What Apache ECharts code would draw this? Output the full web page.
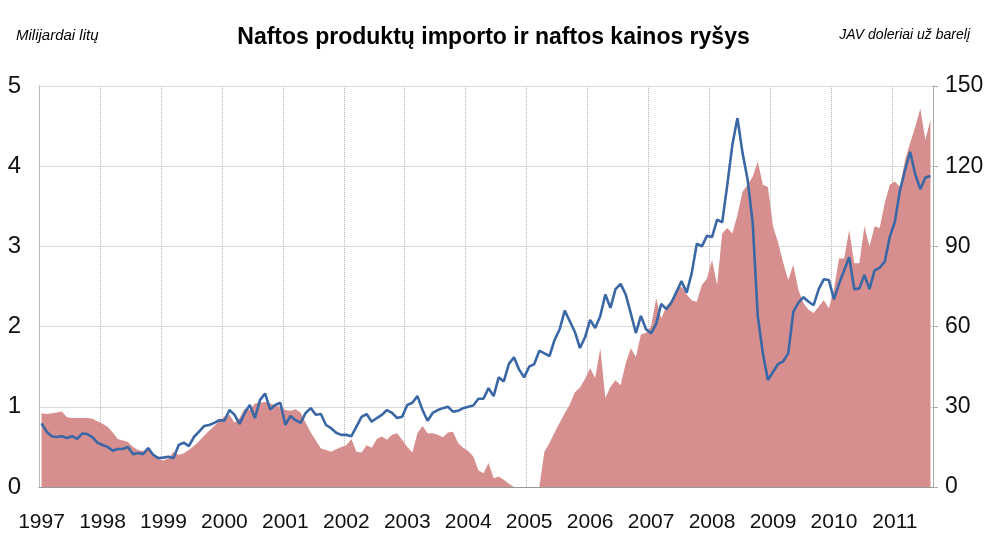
<!DOCTYPE html>
<html>
<head>
<meta charset="utf-8">
<title>Naftos produktų importo ir naftos kainos ryšys</title>
<script src="https://cdn.jsdelivr.net/npm/echarts@6/dist/echarts.min.js"></script>
<style>
  html, body { margin: 0; padding: 0; background: #fff; }
  #main { width: 987px; height: 539px; }
</style>
</head>
<body>
<div id="main"></div>
<script>
// metai (mėnesiniai duomenys 1997-01 .. 2011-08)
var years = [1997, 1998, 1999, 2000, 2001, 2002, 2003, 2004, 2005, 2006, 2007, 2008, 2009, 2010, 2011];
var lastYearMonths = 8;

// naftos produktų importas, mlrd. Lt (kairė ašis)
var importVals = [
  0.92, 0.91, 0.92, 0.93, 0.94, 0.87, 0.86, 0.86, 0.86, 0.86, 0.85, 0.82,
  0.79, 0.75, 0.68, 0.60, 0.58, 0.56, 0.50, 0.46, 0.45, 0.47, 0.41, 0.35,
  0.33, 0.36, 0.44, 0.40, 0.42, 0.46, 0.51, 0.57, 0.64, 0.70, 0.76, 0.83,
  0.88, 0.90, 0.80, 0.86, 0.98, 0.96, 1.04, 1.05, 1.06, 1.04, 1.02, 1.00,
  0.96, 0.95, 0.97, 0.93, 0.80, 0.68, 0.58, 0.48, 0.46, 0.44, 0.47, 0.50,
  0.52, 0.60, 0.44, 0.43, 0.52, 0.49, 0.60, 0.63, 0.59, 0.65, 0.67, 0.59,
  0.50, 0.43, 0.67, 0.76, 0.67, 0.67, 0.65, 0.62, 0.68, 0.69, 0.55, 0.49,
  0.45, 0.38, 0.21, 0.17, 0.30, 0.11, 0.13, 0.09, 0.04, 0, 0, 0,
  0, 0, 0, 0.44, 0.55, 0.68, 0.80, 0.92, 1.03, 1.18, 1.24, 1.35,
  1.48, 1.36, 1.73, 1.11, 1.25, 1.33, 1.27, 1.54, 1.73, 1.62, 1.90, 1.92,
  2.00, 2.35, 2.10, 2.25, 2.33, 2.46, 2.50, 2.40, 2.33, 2.31, 2.52, 2.60,
  2.83, 2.52, 3.16, 3.23, 3.16, 3.39, 3.68, 3.77, 3.87, 4.06, 3.77, 3.74,
  3.25, 3.05, 2.80, 2.58, 2.77, 2.46, 2.29, 2.21, 2.17, 2.25, 2.33, 2.23,
  2.46, 2.85, 2.85, 3.20, 2.79, 2.79, 3.25, 3.00, 3.25, 3.23, 3.54, 3.77,
  3.81, 3.74, 4.08, 4.29, 4.49, 4.72, 4.33, 4.58
];

// naftos kaina, JAV doleriai už barelį (dešinė ašis)
var oilPrice = [
  23.8, 20.7, 19.0, 18.7, 19.0, 18.3, 19.0, 18.0, 20.0, 19.8, 18.7, 16.6,
  15.7, 15.0, 13.6, 14.2, 14.2, 15.0, 12.3, 12.7, 12.3, 14.6, 12.0, 10.8,
  11.0, 11.3, 10.8, 15.7, 16.6, 15.3, 18.7, 20.7, 22.8, 23.2, 24.0, 25.0,
  24.8, 28.8, 27.0, 23.6, 27.7, 30.7, 25.8, 32.5, 35.0, 29.0, 30.7, 31.5,
  23.2, 26.6, 25.0, 24.0, 27.7, 29.5, 27.0, 27.3, 23.2, 22.0, 20.3, 19.5,
  19.5, 19.0, 22.6, 26.2, 27.3, 24.4, 25.8, 27.0, 28.8, 27.7, 25.8, 26.3,
  30.7, 31.5, 34.0, 28.8, 24.8, 27.7, 28.8, 29.5, 30.0, 28.2, 28.5, 29.5,
  30.0, 30.5, 33.0, 33.0, 37.0, 34.0, 41.0, 39.5, 46.0, 48.5, 44.0, 41.0,
  45.0, 46.0, 51.0, 50.0, 49.0, 55.0, 59.0, 66.0, 62.0, 58.0, 52.0, 56.0,
  62.5, 59.5, 64.0, 72.0, 67.0, 74.0, 76.0, 72.0, 65.0, 57.6, 64.0, 59.0,
  57.5, 61.0, 68.5, 66.5, 69.0, 73.0, 77.0, 72.7, 80.0, 91.0, 90.0, 94.0,
  93.5, 100.0, 99.0, 113.0, 128.0, 138.0, 125.0, 115.0, 99.0, 64.0, 50.0, 40.0,
  43.0, 46.0, 47.0, 50.0, 65.5, 69.0, 71.0, 69.3, 68.0, 74.0, 77.7, 77.4,
  70.2, 76.0, 81.0, 86.0, 74.0, 74.3, 79.3, 74.0, 81.0, 82.0, 84.3, 93.6,
  99.3, 111.0, 118.6, 125.4, 117.0, 111.4, 115.8, 116.3
];

var months = [];
years.forEach(function (y, k) {
  var n = (k === years.length - 1) ? lastYearMonths : 12;
  for (var m = 1; m <= n; m++) months.push(y + '-' + (m < 10 ? '0' + m : m));
});

var font = "'Liberation Sans', Arial, sans-serif";
var isJan = function (idx) { return idx % 12 === 0; };

var myChart = echarts.init(document.getElementById('main'));
var option = {
  animation: false,
  backgroundColor: '#fff',
  title: [
    {
      text: 'Naftos produktų importo ir naftos kainos ryšys',
      left: 'center', top: 21,
      textStyle: { fontFamily: font, fontSize: 23, fontWeight: 'bold', color: '#000' }
    },
    {
      text: 'Milijardai litų',
      left: 11, top: 23,
      textStyle: { fontFamily: font, fontSize: 15, fontStyle: 'italic', fontWeight: 'normal', color: '#000' }
    },
    {
      text: 'JAV doleriai už barelį',
      right: 12, top: 23,
      textStyle: { fontFamily: font, fontSize: 14, fontStyle: 'italic', fontWeight: 'normal', color: '#000' }
    }
  ],
  grid: { left: 39, right: 54, top: 86, bottom: 52 },
  xAxis: {
    type: 'category',
    data: months,
    boundaryGap: true,
    axisLine: { lineStyle: { color: '#999', width: 1 } },
    axisTick: { show: false },
    axisLabel: {
      interval: isJan,
      formatter: function (v) { return v.slice(0, 4); },
      fontFamily: font, fontSize: 21, color: '#111', margin: 25
    },
    splitLine: {
      show: true,
      interval: isJan,
      lineStyle: { color: '#b5b5b5', type: 'dotted', width: 1 }
    }
  },
  yAxis: [
    {
      type: 'value', min: 0, max: 5, interval: 1,
      axisLine: { show: true, lineStyle: { color: '#bbb' } },
      axisTick: { show: false },
      axisLabel: { fontFamily: font, fontSize: 24, color: '#111', margin: 18 },
      splitLine: { lineStyle: { color: '#d9d9d9', width: 1 } }
    },
    {
      type: 'value', min: 0, max: 150, interval: 30,
      axisLine: { show: true, lineStyle: { color: '#aaa' } },
      axisTick: { show: true, length: 5, lineStyle: { color: '#aaa' } },
      axisLabel: { fontFamily: font, fontSize: 23, color: '#111', margin: 12 },
      splitLine: { show: false }
    }
  ],
  series: [
    {
      name: 'Naftos produktų importas',
      type: 'line',
      data: importVals,
      yAxisIndex: 0,
      symbol: 'none',
      lineStyle: { width: 0 },
      itemStyle: { color: '#d68f8e' },
      areaStyle: { color: '#d68f8e', opacity: 1 },
      z: 1
    },
    {
      name: 'Naftos kaina',
      type: 'line',
      data: oilPrice,
      yAxisIndex: 1,
      symbol: 'none',
      lineStyle: { width: 2.6, color: '#3a67a5' },
      itemStyle: { color: '#3a67a5' },
      z: 3
    }
  ]
};
myChart.setOption(option);
</script>
</body>
</html>
